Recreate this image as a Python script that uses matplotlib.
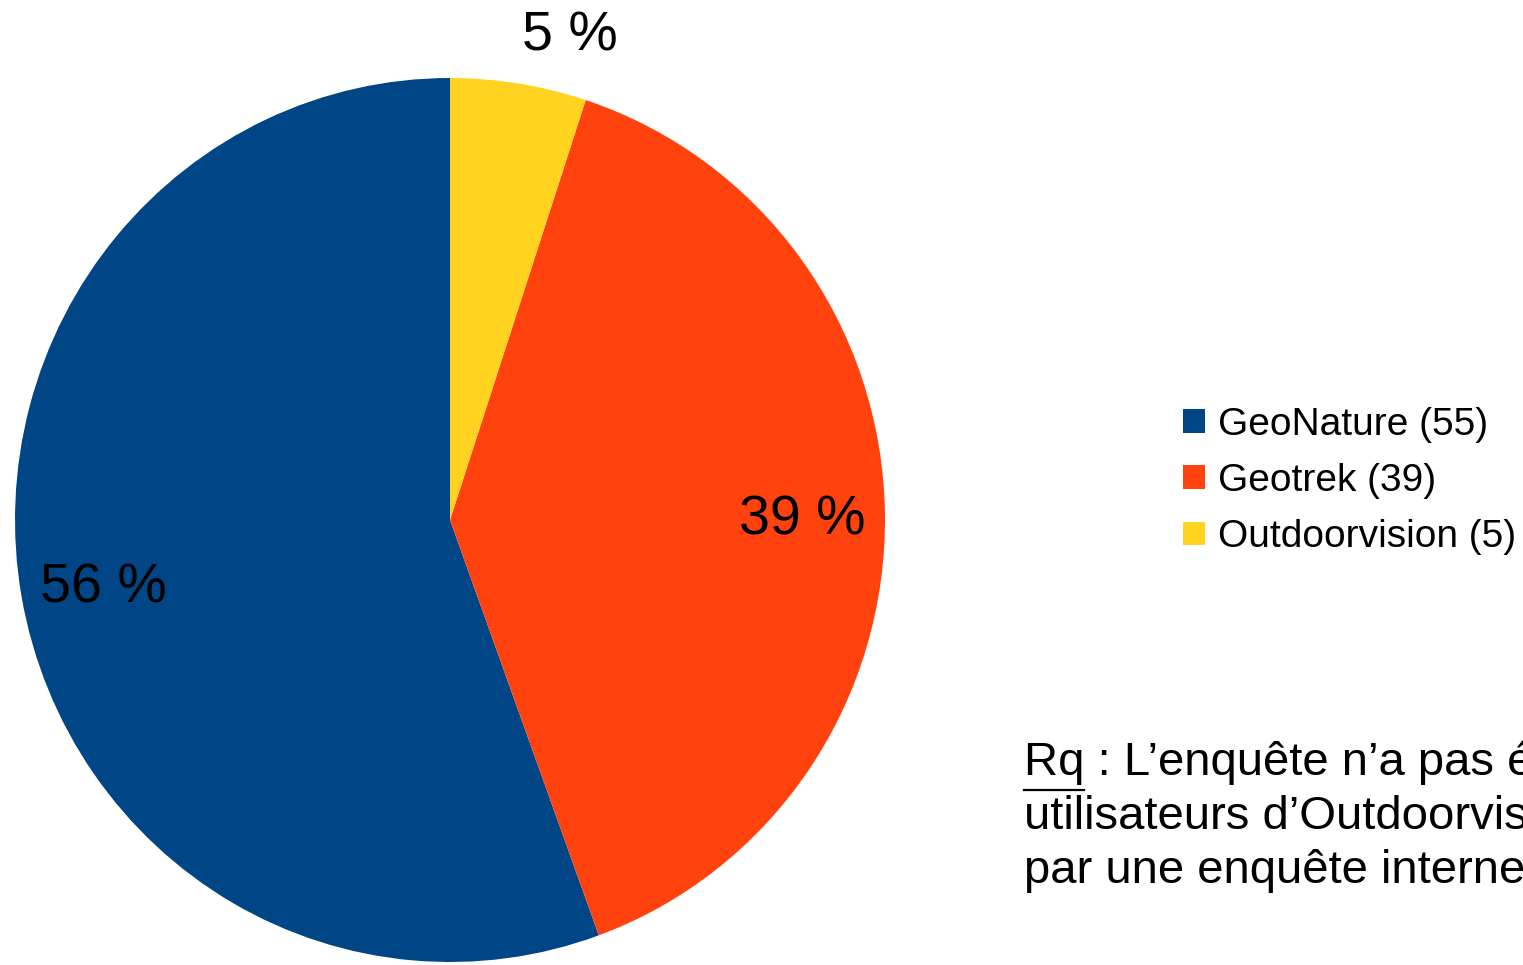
import matplotlib
matplotlib.use('Agg')
import matplotlib.pyplot as plt
from matplotlib.patches import Patch
from matplotlib.lines import Line2D

plt.rcParams['font.family'] = ['Liberation Sans', 'DejaVu Sans']

# data
tools = ['GeoNature', 'Geotrek', 'Outdoorvision']
counts = [55, 39, 5]
colors = ['#004586', '#ff420e', '#ffd320']
note_lines = ["Rq : L\u2019enquête n\u2019a pas été diffusée aux",
              "utilisateurs d\u2019Outdoorvision, sondés",
              "par une enquête interne."]

W, H = 1523, 965
fig = plt.figure(figsize=(W / 100, H / 100), dpi=100)

# pie axes: centre (450, 520) px, radii 435 x 442 px
cx, cy, rx, ry = 450, 520, 435, 442
ax = fig.add_axes([(cx - rx) / W, 1 - (cy + ry) / H, 2 * rx / W, 2 * ry / H])
wedges, texts, autotexts = ax.pie(
    counts, colors=colors, startangle=90, counterclock=True,
    autopct=lambda p: f'{p:.0f} %', pctdistance=0.81, radius=1,
    textprops=dict(fontsize=40, color='black'))
ax.set_xlim(-1, 1)
ax.set_ylim(-1, 1)
ax.set_aspect('auto')
ax.axis('off')
for w in wedges:
    w.set_clip_on(False)
for t in autotexts:
    t.set_va('center_baseline')
# small slice label sits outside the pie
autotexts[2].set_position((0.276, 1.107))
autotexts[2].set_clip_on(False)

# legend
handles = [Patch(facecolor=c, edgecolor='none') for c in colors]
labels = [f'{t} ({n})' for t, n in zip(tools, counts)]
fig.legend(handles, labels, loc='center left',
           bbox_to_anchor=(1183 / W, 1 - 481 / H), frameon=False,
           fontsize=28, handlelength=0.57, handleheight=0.57,
           handletextpad=0.33, labelspacing=0.52, borderpad=0,
           borderaxespad=0)

# note, one line per baseline
nx = 1024 / W
baselines = [775, 829, 883]
for line, yb in zip(note_lines, baselines):
    fig.text(nx, 1 - yb / H, line, fontsize=34, color='black',
             ha='left', va='baseline')

# underline "Rq"
renderer = fig.canvas.get_renderer()
tmp = fig.text(nx, 1 - baselines[0] / H, 'Rq', fontsize=34,
               ha='left', va='baseline', alpha=0)
bb = tmp.get_window_extent(renderer)
tmp.remove()
uy = 1 - 790 / H
fig.add_artist(Line2D([bb.x0 / W, bb.x1 / W], [uy, uy], color='black',
                      lw=1.6, transform=fig.transFigure))

fig.savefig('out.png', dpi=100)
